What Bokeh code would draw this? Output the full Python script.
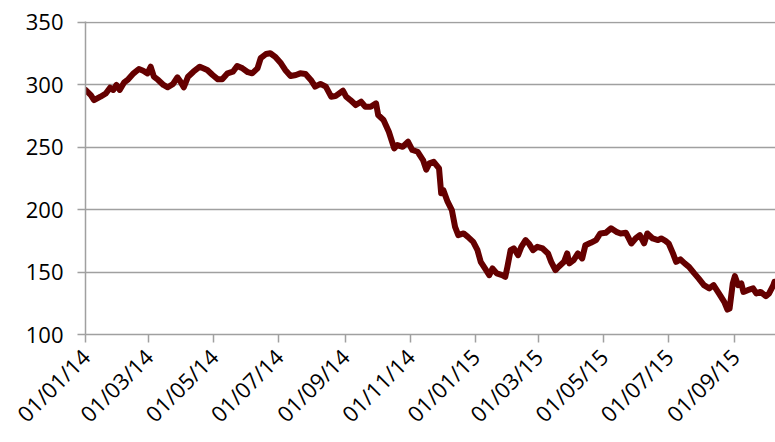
import pandas as pd
from math import pi
from bokeh.plotting import figure
from bokeh.models import FixedTicker, Range1d, ColumnDataSource
from bokeh.embed import file_html
from bokeh.resources import INLINE

start_date = "2014-01-01"
day_offsets = [0, 5, 8, 14, 19, 23, 26, 29, 32, 36, 40, 45, 50, 54, 58, 61, 64, 68, 73, 77,
               82, 86, 89, 92, 96, 101, 107, 114, 119, 124, 128, 133, 138, 142, 147, 152, 156,
               161, 164, 169, 173, 178, 183, 187, 192, 197, 201, 206, 211, 215, 220, 225, 230,
               234, 241, 244, 248, 253, 258, 262, 267, 272, 274, 279, 284, 289, 292, 297, 302,
               306, 311, 316, 319, 322, 326, 331, 333, 335, 339, 343, 346, 349, 354, 358, 363,
               367, 370, 374, 378, 381, 385, 390, 393, 395, 398, 401, 405, 408, 412, 415, 419,
               423, 428, 433, 436, 440, 443, 448, 451, 453, 457, 461, 465, 468, 473, 478, 482,
               487, 492, 497, 501, 506, 511, 515, 519, 523, 526, 531, 536, 539, 543, 546, 550,
               553, 557, 561, 565, 570, 574, 579, 584, 588, 593, 598, 601, 603, 606, 608, 611,
               614, 616, 620, 625, 628, 632, 637, 640, 644, 645]
index_values = [295.8, 291.7, 287.7, 290.4, 293.0, 297.6, 295.8, 299.8, 295.8, 301.6, 304.3,
                309.1, 312.6, 311.2, 309.1, 314.4, 306.4, 303.8, 299.8, 297.9, 300.6, 305.9,
                302.4, 297.9, 306.4, 310.4, 314.4, 311.8, 307.8, 304.3, 304.3, 309.1, 310.4,
                315.0, 313.1, 310.0, 309.1, 313.1, 321.2, 324.6, 325.2, 322.0, 317.1, 311.8,
                307.0, 307.8, 309.1, 308.6, 303.8, 298.4, 300.6, 298.4, 290.4, 290.9, 295.2,
                290.4, 287.7, 283.7, 286.4, 282.4, 282.4, 285.1, 275.7, 271.7, 262.3, 249.0,
                251.7, 250.3, 254.3, 247.7, 246.3, 239.7, 232.0, 237.0, 238.3, 233.0, 213.0,
                215.6, 206.3, 199.6, 186.2, 179.6, 180.9, 178.2, 174.2, 167.5, 158.2, 152.9,
                147.5, 152.9, 148.9, 147.5, 146.2, 154.2, 167.5, 168.9, 163.5, 170.2, 175.6,
                172.9, 167.5, 170.2, 168.9, 164.9, 158.2, 151.5, 154.2, 158.2, 164.9, 156.9,
                159.5, 164.9, 160.9, 171.5, 173.4, 175.6, 180.9, 181.4, 185.0, 182.2, 180.9,
                181.4, 172.9, 176.9, 179.6, 172.9, 180.9, 176.9, 175.6, 176.9, 175.0, 172.9,
                164.9, 158.2, 160.1, 156.9, 154.2, 148.9, 144.9, 139.5, 136.9, 139.5, 132.9,
                126.1, 120.0, 120.8, 140.9, 146.7, 139.5, 140.9, 134.1, 135.5, 136.9, 132.9,
                134.1, 130.7, 132.9, 139.5, 142.2]
tick_dates = ["2014-01-01", "2014-03-01", "2014-05-01", "2014-07-01", "2014-09-01",
              "2014-11-01", "2015-01-01", "2015-03-01", "2015-05-01", "2015-07-01",
              "2015-09-01"]
tick_labels = ["01/01/14", "01/03/14", "01/05/14", "01/07/14", "01/09/14", "01/11/14",
               "01/01/15", "01/03/15", "01/05/15", "01/07/15", "01/09/15"]
y_ticks = [100, 150, 200, 250, 300, 350]
x_end_offset_days = 646


def to_ms(ts):
    return int(pd.Timestamp(ts).value // 10**6)


start = pd.Timestamp(start_date)
dates = [start + pd.Timedelta(days=d) for d in day_offsets]
source = ColumnDataSource(dict(date=dates, value=index_values))

tick_ms = [to_ms(d) for d in tick_dates]

p = figure(width=775, height=442, x_axis_type="datetime",
           output_backend="svg", toolbar_location=None,
           x_range=Range1d(to_ms(start), to_ms(start + pd.Timedelta(days=x_end_offset_days))),
           y_range=Range1d(100, 350.6),
           min_border_left=85, min_border_right=0, min_border_top=21, min_border_bottom=108)

p.line("date", "value", source=source, line_color="#650000", line_width=6,
       line_join="round", line_cap="round")

FONT = "Open Sans"
GREY = "#a0a0a0"

p.xaxis.ticker = FixedTicker(ticks=tick_ms)
p.xaxis.major_label_overrides = {t: lab for t, lab in zip(tick_ms, tick_labels)}
p.xaxis.major_label_orientation = pi / 4
p.yaxis.ticker = FixedTicker(ticks=y_ticks)

for ax in (p.xaxis, p.yaxis):
    ax.axis_line_color = GREY
    ax.axis_line_width = 1.5
    ax.major_tick_line_color = GREY
    ax.major_tick_line_width = 1.5
    ax.major_tick_out = 8
    ax.major_tick_in = 0
    ax.minor_tick_line_color = None
    ax.major_label_text_font = FONT
    ax.major_label_text_color = "#000000"
    ax.major_label_text_font_size = "22px"

p.yaxis.major_label_standoff = 14
p.xaxis.major_label_standoff = 10

p.xgrid.grid_line_color = None
p.ygrid.grid_line_color = GREY
p.ygrid.grid_line_width = 1.5
p.outline_line_color = None
p.background_fill_color = "white"
p.border_fill_color = "white"

open("out.html", "w").write(file_html(p, INLINE))
